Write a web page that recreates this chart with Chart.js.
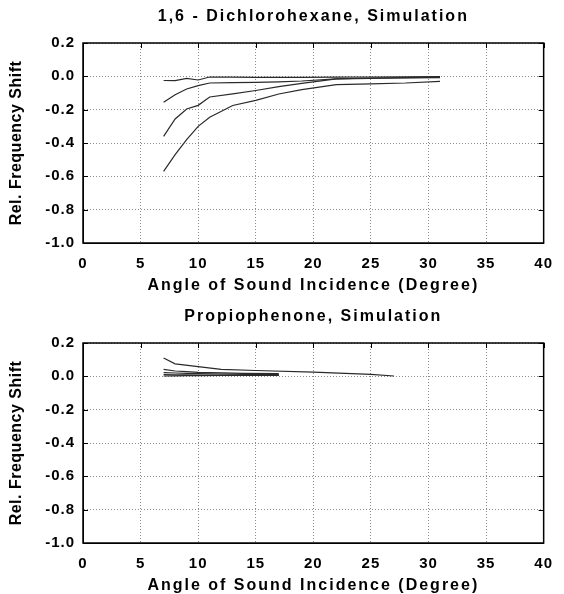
<!DOCTYPE html>
<html>
<head>
<meta charset="utf-8">
<script src="https://cdn.jsdelivr.net/npm/chart.js@4.4.0/dist/chart.umd.min.js"></script>
<style>
    html, body { margin: 0; padding: 0; background: #fff; overflow: hidden; }
    canvas { position: absolute; left: 0; }
    #chartTop { top: 0; }
    #chartBottom { top: 300px; }
</style>
</head>
<body>
<canvas id="chartTop" width="564" height="297"></canvas>
<canvas id="chartBottom" width="564" height="297"></canvas>
<script>
"use strict";

//DATI - 1,6 Dichlorohexane
const anglesDichloro = [7, 8, 9, 10, 11, 13, 15, 17, 19, 22, 25, 28, 31];
const dichloroA = [-0.025, -0.026, -0.012, -0.022, -0.004, -0.005, -0.006, -0.006, -0.006, -0.005, -0.004, -0.003, -0.002];
const dichloroB = [-0.156, -0.11, -0.076, -0.056, -0.040, -0.038, -0.036, -0.033, -0.028, -0.015, -0.010, -0.008, -0.005];
const dichloroC = [-0.36, -0.256, -0.196, -0.174, -0.124, -0.105, -0.085, -0.062, -0.042, -0.015, -0.012, -0.010, -0.008];
const dichloroD = [-0.57, -0.47, -0.38, -0.30, -0.245, -0.175, -0.144, -0.106, -0.080, -0.050, -0.045, -0.040, -0.030];

//DATI - Propiophenone
const anglesPropioLong = [7, 8, 10, 12, 15, 20, 25, 27];
const propioA = [0.11, 0.075, 0.058, 0.042, 0.035, 0.025, 0.012, 0.002];
const anglesPropioShort = [7, 8, 9, 10, 12, 14, 17];
const propioB = [0.042, 0.032, 0.028, 0.024, 0.021, 0.018, 0.016];
const propioC = [0.022, 0.020, 0.018, 0.016, 0.014, 0.012, 0.010];
const propioD = [0.010, 0.009, 0.009, 0.008, 0.007, 0.007, 0.006];
const propioE = [0.002, 0.003, 0.004, 0.004, 0.005, 0.005, 0.005];

//ASSI
const xMin = 0, xMax = 40, xStep = 5;
const yMin = -1.0, yMax = 0.2, yStep = 0.2;
const xTitle = "Angle of Sound Incidence (Degree)";
const yTitle = "Rel. Frequency Shift";

const fontFamily = "'Liberation Sans', Arial, sans-serif";

//PLUGIN CORNICE + TITOLI
const framePlugin = {
    id: "frame",
    beforeDraw(chart) {
        chart.ctx.letterSpacing = "1px";
    },
    afterDraw(chart) {
        let ctx = chart.ctx;
        let a = chart.chartArea;
        let xs = chart.scales.x, ys = chart.scales.y;
        ctx.save();
        ctx.strokeStyle = "#000";
        ctx.lineWidth = 1.5;
        ctx.strokeRect(a.left, a.top, a.right - a.left, a.bottom - a.top);
        ctx.lineWidth = 1;
        ctx.beginPath();
        xs.ticks.forEach(function (t) {
            let px = Math.round(xs.getPixelForValue(t.value)) + 0.5;
            ctx.moveTo(px, a.top);
            ctx.lineTo(px, a.top + 5);
        });
        ys.ticks.forEach(function (t) {
            let py = Math.round(ys.getPixelForValue(t.value)) + 0.5;
            ctx.moveTo(a.left, py);
            ctx.lineTo(a.left + 5, py);
            ctx.moveTo(a.right - 5, py);
            ctx.lineTo(a.right, py);
        });
        ctx.stroke();

        ctx.fillStyle = "#000";
        ctx.font = "bold 16px " + fontFamily;
        ctx.letterSpacing = "2px";
        ctx.textAlign = "center";
        ctx.textBaseline = "middle";
        let cx = (a.left + a.right) / 2;
        ctx.fillText(chart.options.plugins.frame.title, cx, 17);
        ctx.fillText(xTitle, cx, 286);
        ctx.letterSpacing = "0.5px";
        ctx.translate(17, (a.top + a.bottom) / 2);
        ctx.rotate(-Math.PI / 2);
        ctx.fillText(yTitle, 0, 0);
        ctx.restore();
    }
};

function toPoints(xs, ys) {
    let pts = [];
    for (let i = 0; i < xs.length; i++)
        pts.push({ x: xs[i], y: ys[i] });
    return pts;
}

function serie(xs, ys) {
    return {
        data: toPoints(xs, ys),
        showLine: true,
        borderColor: "#2a2a2a",
        borderWidth: 1.2,
        pointRadius: 0,
        tension: 0
    };
}

function createChart(id, title, datasets) {
    return new Chart(document.getElementById(id), {
        type: "scatter",
        data: { datasets: datasets },
        plugins: [framePlugin],
        options: {
            responsive: false,
            animation: false,
            devicePixelRatio: 1,
            layout: { padding: { left: 0, top: 43, right: 10, bottom: 0 } },
            plugins: {
                legend: { display: false },
                tooltip: { enabled: false },
                frame: { title: title }
            },
            scales: {
                x: {
                    type: "linear",
                    min: xMin,
                    max: xMax,
                    afterFit: function (s) { s.height = 54; },
                    ticks: {
                        stepSize: xStep,
                        color: "#000",
                        padding: 12,
                        maxRotation: 0,
                        font: { family: fontFamily, size: 15, weight: "bold" }
                    },
                    grid: { color: "#8c8c8c", drawTicks: false },
                    border: { display: true, color: "#000", dash: [1, 2] }
                },
                y: {
                    type: "linear",
                    min: yMin,
                    max: yMax,
                    afterFit: function (s) { s.width = 83; },
                    ticks: {
                        stepSize: yStep,
                        color: "#000",
                        padding: 8,
                        font: { family: fontFamily, size: 15, weight: "bold" },
                        callback: function (v) { return (Math.round(v * 10) / 10).toFixed(1); }
                    },
                    grid: { color: "#8c8c8c", drawTicks: false },
                    border: { display: true, color: "#000", dash: [1, 2] }
                }
            }
        }
    });
}

//GRAFICI
createChart("chartTop", "1,6 - Dichlorohexane, Simulation", [
    serie(anglesDichloro, dichloroA),
    serie(anglesDichloro, dichloroB),
    serie(anglesDichloro, dichloroC),
    serie(anglesDichloro, dichloroD)
]);

createChart("chartBottom", "Propiophenone, Simulation", [
    serie(anglesPropioLong, propioA),
    serie(anglesPropioShort, propioB),
    serie(anglesPropioShort, propioC),
    serie(anglesPropioShort, propioD),
    serie(anglesPropioShort, propioE)
]);
</script>
</body>
</html>
